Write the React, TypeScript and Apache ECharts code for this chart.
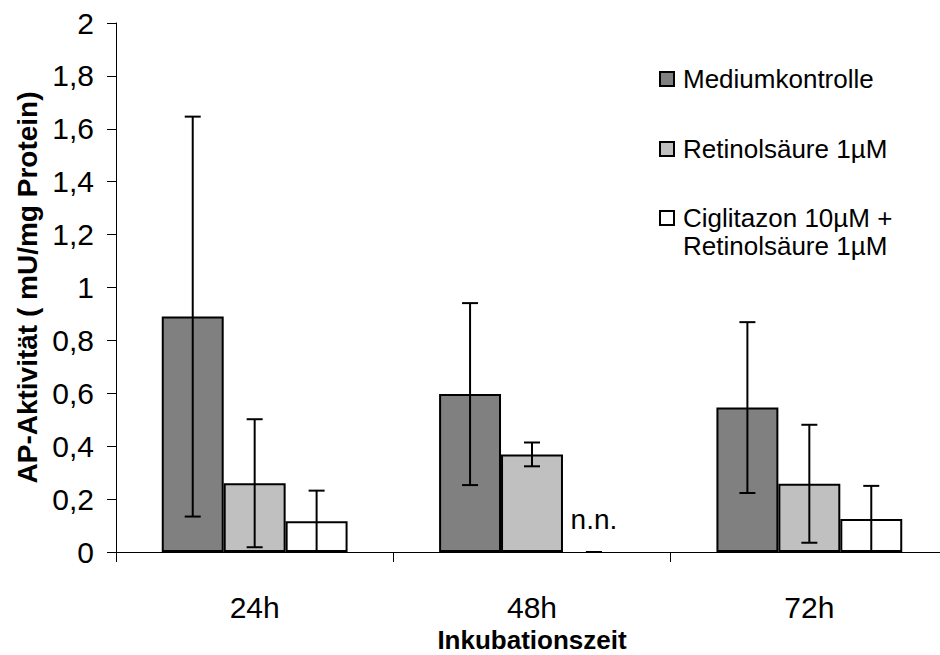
import React, { useEffect, useRef } from "react";
import * as echarts from "echarts";

const categories = ["24h", "48h", "72h"];
const seriesNames = ["Mediumkontrolle", "Retinolsäure 1µM", "Ciglitazon 10µM +\nRetinolsäure 1µM"];
const mediumValues = [0.89, 0.597, 0.546];
const mediumErrors = [0.756, 0.344, 0.323];
const retinolValues = [0.26, 0.369, 0.258];
const retinolErrors = [0.242, 0.045, 0.223];
const cigliValues = [0.116, 0, 0.125];
const cigliErrors = [0.116, 0, 0.125];
const cigliNotDetected = [false, true, false];
const yTicks = { min: 0, max: 2, interval: 0.2 };
const notDetectedLabel = "n.n.";
const yAxisTitle = "AP-Aktivität ( mU/mg Protein)";
const xAxisTitle = "Inkubationszeit";

const colors = ["#808080", "#C0C0C0", "#FFFFFF"];
const CAT_GAP = 0.33;
const FONT = "Arial, 'Liberation Sans', Helvetica, sans-serif";

export default function App() {
  const ref = useRef<HTMLDivElement>(null);
  useEffect(() => {
    if (!ref.current) return;
    const chart = echarts.init(ref.current, null, { renderer: "svg" });
    const values = [mediumValues, retinolValues, cigliValues];
    const errors = [mediumErrors, retinolErrors, cigliErrors];

    const barSeries = values.map((vals, s) => ({
      type: "bar",
      name: seriesNames[s],
      barGap: "0%",
      barCategoryGap: CAT_GAP * 100 + "%",
      itemStyle: { color: colors[s], borderColor: "#000", borderWidth: 2 },
      data: vals.map((v, i) => {
        if (s === 2 && cigliNotDetected[i]) {
          return {
            value: v,
            itemStyle: { color: "transparent", borderWidth: 0 },
            label: {
              show: true,
              position: "top",
              distance: 19,
              formatter: notDetectedLabel,
              fontSize: 28,
              fontFamily: FONT,
              color: "#000",
            },
          };
        }
        return v;
      }),
      z: 2,
    }));

    const errData: number[][] = [];
    values.forEach((vals, s) => {
      vals.forEach((v, i) => {
        errData.push([i, v, errors[s][i], s]);
      });
    });

    const errorSeries = {
      type: "custom",
      name: "errors",
      data: errData,
      encode: { x: 0, y: 1 },
      z: 5,
      renderItem: (params: any, api: any) => {
        const cat = api.value(0);
        const mean = api.value(1);
        const err = api.value(2);
        const s = api.value(3);
        const bandW = api.size([1, 0])[0];
        const barW = (bandW * (1 - CAT_GAP)) / 3;
        const cx = api.coord([cat, 0])[0] + (s - 1) * barW;
        const yTop = api.coord([cat, mean + err])[1];
        const yBot = api.coord([cat, Math.max(0, mean - err)])[1];
        const capHalf = 8;
        const style = { stroke: "#000", lineWidth: 2 };
        return {
          type: "group",
          children: [
            { type: "line", shape: { x1: cx, y1: yTop, x2: cx, y2: yBot }, style },
            { type: "line", shape: { x1: cx - capHalf, y1: yTop, x2: cx + capHalf, y2: yTop }, style },
            { type: "line", shape: { x1: cx - capHalf, y1: yBot, x2: cx + capHalf, y2: yBot }, style },
          ],
        };
      },
    };

    const legendX = 660;
    const legendRowsY = [79, 149, 218];
    const legendChildren: any[] = [];
    seriesNames.forEach((name, s) => {
      legendChildren.push({
        type: "rect",
        shape: { x: legendX, y: legendRowsY[s] - 7, width: 14, height: 14 },
        style: { fill: colors[s], stroke: "#000", lineWidth: 2 },
      });
      legendChildren.push({
        type: "text",
        x: legendX + 23,
        y: legendRowsY[s] - 14,
        style: {
          text: name,
          fontSize: 26,
          fontFamily: FONT,
          fill: "#000",
          lineHeight: 28,
          verticalAlign: "top",
          align: "left",
        },
      });
    });

    chart.setOption({
      animation: false,
      backgroundColor: "#fff",
      grid: { left: 116, top: 23, width: 832, height: 529, containLabel: false, outerBoundsMode: "none" },
      xAxis: {
        type: "category",
        data: categories,
        axisLine: { lineStyle: { color: "#000", width: 1 } },
        axisTick: { show: true, length: 10, lineStyle: { color: "#000" } },
        axisLabel: { color: "#000", fontSize: 30, fontFamily: FONT, margin: 40 },
        name: xAxisTitle,
        nameLocation: "middle",
        nameGap: 75,
        nameTextStyle: { color: "#000", fontSize: 26, fontWeight: "bold", fontFamily: FONT },
      },
      yAxis: {
        type: "value",
        min: yTicks.min,
        max: yTicks.max,
        interval: yTicks.interval,
        splitLine: { show: false },
        axisLine: { show: true, lineStyle: { color: "#000", width: 1 } },
        axisTick: { show: true, length: 9, lineStyle: { color: "#000" } },
        axisLabel: {
          color: "#000",
          fontSize: 30,
          fontFamily: FONT,
          margin: 22,
          formatter: (v: number) => String(Math.round(v * 10) / 10).replace(".", ","),
        },
        name: yAxisTitle,
        nameLocation: "middle",
        nameGap: 68,
        nameRotate: 90,
        nameTextStyle: { color: "#000", fontSize: 28, fontWeight: "bold", fontFamily: FONT },
      },
      graphic: legendChildren,
      series: [...barSeries, errorSeries],
    });
    return () => chart.dispose();
  }, []);
  return <div ref={ref} style={{ position: "fixed", left: 0, top: 0, width: 940, height: 655 }} />;
}
